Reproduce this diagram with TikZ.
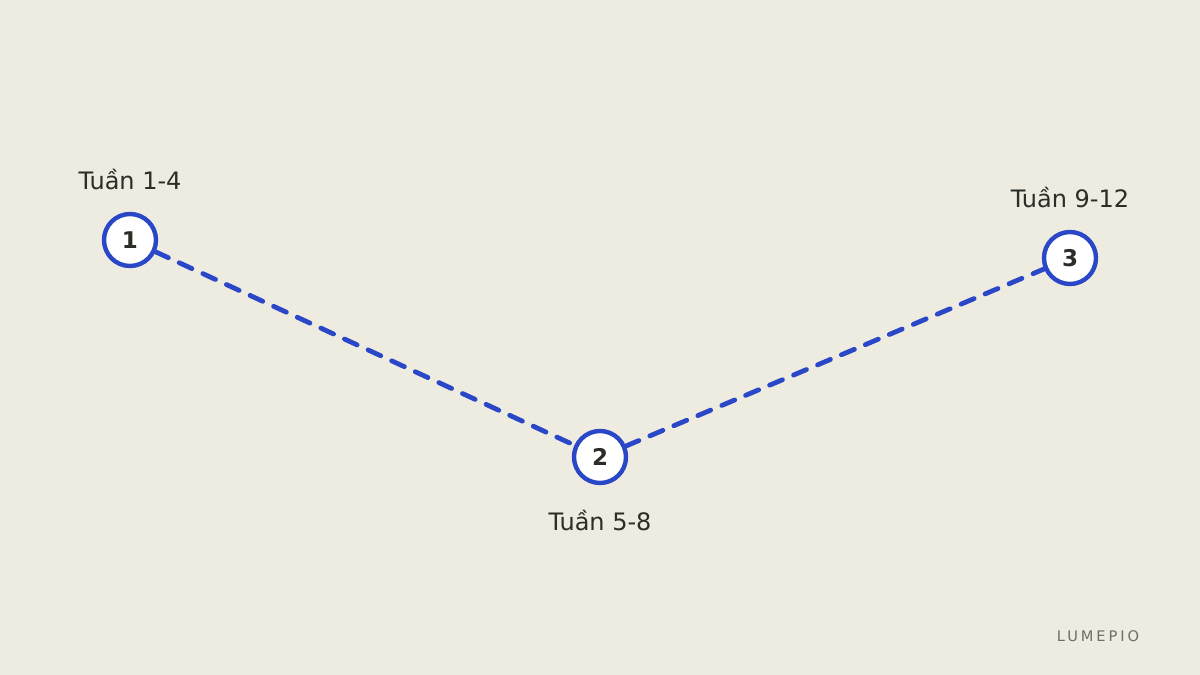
\documentclass[tikz,border=0pt]{standalone}
\usepackage{fontspec}
\setmainfont{DejaVu Sans}
\usetikzlibrary{positioning}
\definecolor{bgpaper}{HTML}{EEEBE1}
\definecolor{stepblue}{HTML}{2A47C8}
\definecolor{inkdark}{HTML}{2A2E27}
\definecolor{markgray}{HTML}{6B7064}
\tikzset{
every stage/.style={draw=stepblue, fill=white, circle, line width=2.2pt, minimum size=26pt, inner sep=0pt, text=inkdark, font=\fontsize{11.5}{13}\selectfont\bfseries},
weeklabel/.style={text=inkdark, font=\fontsize{12}{14}\selectfont},
route/.style={draw=stepblue, line width=2.4pt, line cap=round, dash pattern=on 7pt off 6pt},
}

\begin{document}
\begin{tikzpicture}[x=0.5pt, y=-0.5pt]
    \fill[bgpaper] (0,0) rectangle (1200,675);
    \useasboundingbox (0,0) rectangle (1200,675);

    %stage nodes
    \node[every stage]    (s1) at (130,240) {1};
    \node[every stage]    (s2) at (600,457) {2};
    \node[every stage]    (s3) at (1070,258) {3};

    %week labels
    \node[weeklabel]    (w1) at (130,180) {Tuần 1-4};
    \node[weeklabel]    (w2) at (600,521) {Tuần 5-8};
    \node[weeklabel]    (w3) at (1070,198) {Tuần 9-12};

    %dashed route
    \draw[route]    (s1)--(s2);
    \draw[route]    (s2)--(s3);

    %brand mark
    \node[text=markgray, font=\fontsize{7.3}{8}\selectfont\addfontfeature{LetterSpace=20}] (brand) at (1098,636) {LUMEPIO};

\end{tikzpicture}
\end{document}
